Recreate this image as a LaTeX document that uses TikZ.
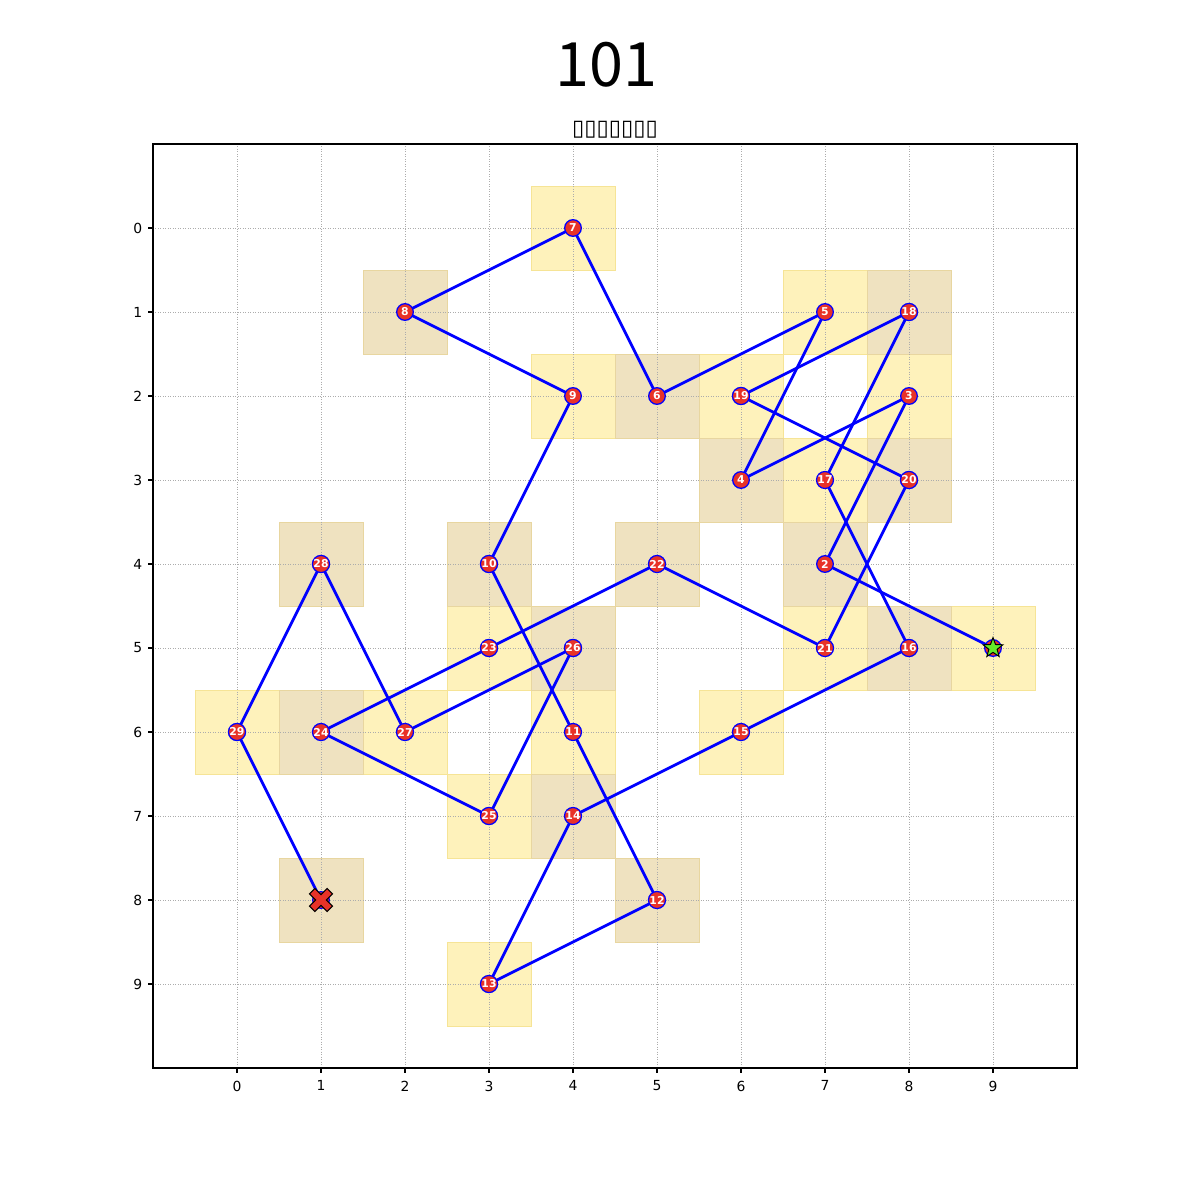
\documentclass[tikz,border=0pt]{standalone}
\usepackage{fontspec}
\setmainfont{DejaVu Sans}
\newfontfamily\titlefont{Noto Sans CJK SC}
\usetikzlibrary{shapes.geometric}
\definecolor{ptred}{RGB}{232,50,40}
\definecolor{yelfill}{RGB}{254,242,187}
\definecolor{yeledge}{RGB}{246,228,150}
\definecolor{tanfill}{RGB}{239,226,192}
\definecolor{tanedge}{RGB}{232,214,160}
\definecolor{stargreen}{RGB}{100,235,40}
\pgfdeclarelayer{bg}
\pgfsetlayers{bg,main}
\tikzset{
  yelcell/.style={fill=yelfill,draw=yeledge,line width=0.7pt},
  tancell/.style={fill=tanfill,draw=tanedge,line width=0.7pt},
  gridline/.style={draw=gray!65,line width=0.4pt,dash pattern=on 0.7pt off 1.1pt},
  link/.style={draw=blue,line width=2pt},
  pt/.style={circle,fill=ptred,draw=blue,line width=0.9pt,minimum size=12pt,inner sep=0pt,
    text=white,font=\fontsize{7.8}{8}\selectfont\bfseries},
  ticklab/.style={inner sep=0pt,font=\fontsize{10}{12}\selectfont},
  startmk/.style={star,star points=5,star point ratio=2.4,fill=stargreen,draw=black,
    line width=0.7pt,minimum size=15pt,inner sep=0pt}
}
\begin{document}
\begin{tikzpicture}[x=60.48pt,y=-60.48pt]
\useasboundingbox (-2.8214,-2.7143) rectangle (11.4643,11.5714);
\begin{pgfonlayer}{bg}
\foreach \cx/\cy in {4/0,7/1,4/2,6/2,8/2,7/3,3/5,7/5,9/5,0/6,2/6,4/6,6/6,3/7,3/9}
  \path[yelcell] (\cx-0.5,\cy-0.5) rectangle ++(1,1);
\foreach \cx/\cy in {2/1,8/1,5/2,6/3,8/3,1/4,3/4,5/4,7/4,4/5,8/5,1/6,4/7,1/8,5/8}
  \path[tancell] (\cx-0.5,\cy-0.5) rectangle ++(1,1);
\foreach \i in {0,...,9} {
  \draw[gridline] (\i,-1) -- (\i,10);
  \draw[gridline] (-1,\i) -- (10,\i);
  \draw[line width=0.8pt] (\i,10) -- ++(0pt,-3.5pt);
  \draw[line width=0.8pt] (-1,\i) -- ++(-3.5pt,0pt);
  \node[ticklab,anchor=north] (xl\i) at ([yshift=-9pt]\i,10) {\i};
  \node[ticklab,anchor=east] (yl\i) at ([xshift=-7.5pt]-1,\i) {\i};
}
\draw[line width=0.8pt] (-1,-1) rectangle (10,10);
\end{pgfonlayer}
\node[font=\titlefont\fontsize{44}{52}\selectfont] (title) at (4.4,-1.94) {101};
\node[font=\fontsize{16}{18}\selectfont] (subtitle) at (4.5,-1.17) {▯▯▯▯▯▯▯};
\foreach \k/\px/\py in {1/9/5,2/7/4,3/8/2,4/6/3,5/7/1,6/5/2,7/4/0,8/2/1,9/4/2,10/3/4,
  11/4/6,12/5/8,13/3/9,14/4/7,15/6/6,16/8/5,17/7/3,18/8/1,19/6/2,20/8/3,
  21/7/5,22/5/4,23/3/5,24/1/6,25/3/7,26/4/5,27/2/6,28/1/4,29/0/6,30/1/8} {
  \ifnum\k=1 \node[pt] (n\k) at (\px,\py) {};
  \else\ifnum\k=30 \node[pt] (n\k) at (\px,\py) {};
  \else \node[pt] (n\k) at (\px,\py) {\k};
  \fi\fi
}
\begin{pgfonlayer}{bg}
\foreach \a [evaluate=\a as \b using int(\a+1)] in {1,...,29}
  \draw[link] (n\a.center) -- (n\b.center);
\end{pgfonlayer}
\node[startmk] (startstar) at (n1.center) {};
\begin{scope}[shift={(n30.center)},rotate=45]
\filldraw[fill=ptred,draw=black,line width=0.8pt]
  (2.7pt,2.7pt) -- (2.7pt,9pt) -- (-2.7pt,9pt) -- (-2.7pt,2.7pt) -- (-9pt,2.7pt) -- (-9pt,-2.7pt)
  -- (-2.7pt,-2.7pt) -- (-2.7pt,-9pt) -- (2.7pt,-9pt) -- (2.7pt,-2.7pt) -- (9pt,-2.7pt) -- (9pt,2.7pt) -- cycle;
\end{scope}
\end{tikzpicture}
\end{document}
